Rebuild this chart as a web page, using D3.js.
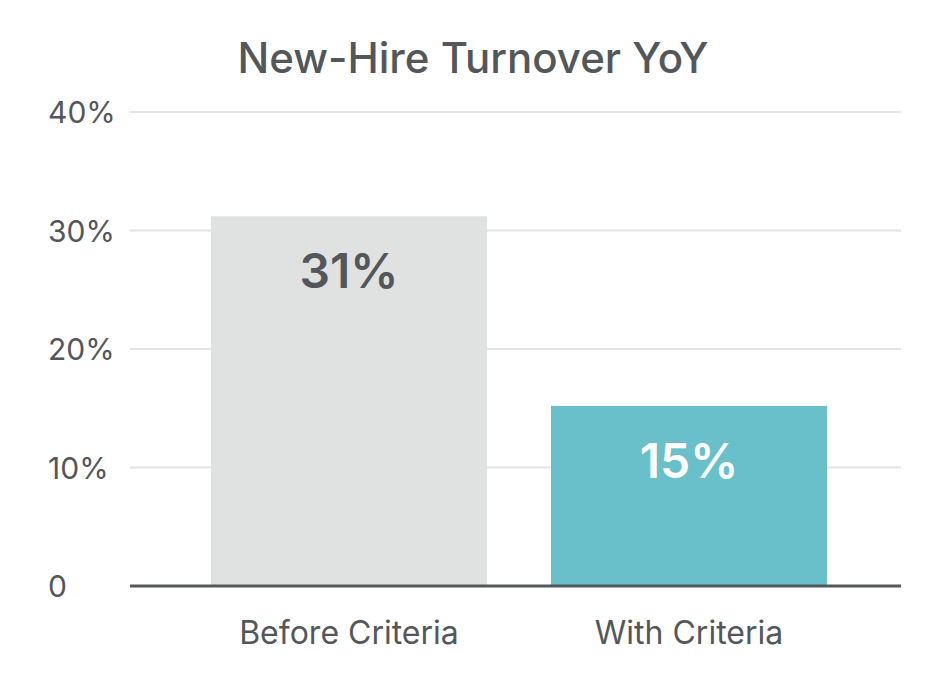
<!DOCTYPE html>
<html>
<head>
<meta charset="utf-8">
<script src="https://cdn.jsdelivr.net/npm/d3@7"></script>
<style>
  html, body { margin: 0; padding: 0; background: #fff; }
  svg text { font-family: Inter, Lato, sans-serif; }
</style>
</head>
<body>
<div id="chart"></div>
<script>
var categories = ["Before Criteria", "With Criteria"];
var values = [0.312, 0.152];
var barColors = ["#e0e1e1", "#69c0ca"];
var labelColors = ["#54575a", "#ffffff"];
var yTicks = [0, 0.1, 0.2, 0.3, 0.4];
var yTickLabels = ["0", "10%", "20%", "30%", "40%"];

var width = 948, height = 690;
var margin = {top: 112, right: 47, bottom: 104, left: 130};
var textColor = "#54575a";

var svg = d3.select("#chart").append("svg")
    .attr("width", width)
    .attr("height", height);

// band range runs a bit past the gridlines so the outer padding matches
var x = d3.scaleBand()
    .domain(categories)
    .range([margin.left, 908])
    .paddingInner(0.188)
    .paddingOuter(0.238);

var y = d3.scaleLinear()
    .domain([0, 0.4])
    .range([height - margin.bottom, margin.top]);

// gridlines
svg.append("g")
    .selectAll("line")
    .data(yTicks.slice(1))
  .enter().append("line")
    .attr("x1", margin.left)
    .attr("x2", width - margin.right)
    .attr("y1", function (d) { return y(d); })
    .attr("y2", function (d) { return y(d); })
    .attr("stroke", "#e3e4e4")
    .attr("stroke-width", 2);

// y tick labels, left aligned
svg.append("g")
    .selectAll("text")
    .data(yTicks)
  .enter().append("text")
    .attr("x", 48)
    .attr("y", function (d) { return y(d) + 11; })
    .attr("fill", textColor)
    .attr("font-size", 30)
    .text(function (d, i) { return yTickLabels[i]; });

// bars
svg.append("g")
    .selectAll("rect")
    .data(values)
  .enter().append("rect")
    .attr("x", function (d, i) { return x(categories[i]); })
    .attr("width", x.bandwidth())
    .attr("y", function (d) { return y(d); })
    .attr("height", function (d) { return y(0) - y(d); })
    .attr("fill", function (d, i) { return barColors[i]; });

// value labels
svg.append("g")
    .selectAll("text")
    .data(values)
  .enter().append("text")
    .attr("x", function (d, i) { return x(categories[i]) + x.bandwidth() / 2; })
    .attr("y", function (d) { return y(d) + 72; })
    .attr("text-anchor", "middle")
    .attr("font-size", 48)
    .attr("font-weight", 600)
    .attr("fill", function (d, i) { return labelColors[i]; })
    .text(function (d) { return d3.format(".0%")(d); });

// baseline
svg.append("line")
    .attr("x1", margin.left)
    .attr("x2", width - margin.right)
    .attr("y1", y(0))
    .attr("y2", y(0))
    .attr("stroke", "#54585c")
    .attr("stroke-width", 3);

// category labels
var xAxis = d3.axisBottom(x).tickSize(0).tickPadding(0);
var xg = svg.append("g")
    .attr("transform", "translate(0," + y(0) + ")")
    .call(xAxis);
xg.select(".domain").remove();
xg.selectAll("text")
    .attr("dy", null)
    .attr("y", 58)
    .attr("font-size", 32)
    .attr("font-family", "Inter, Lato, sans-serif")
    .attr("fill", textColor);

// title
svg.append("text")
    .attr("x", 473)
    .attr("y", 73)
    .attr("text-anchor", "middle")
    .attr("font-size", 42)
    .attr("font-weight", 500)
    .attr("fill", textColor)
    .text("New-Hire Turnover YoY");
</script>
</body>
</html>
